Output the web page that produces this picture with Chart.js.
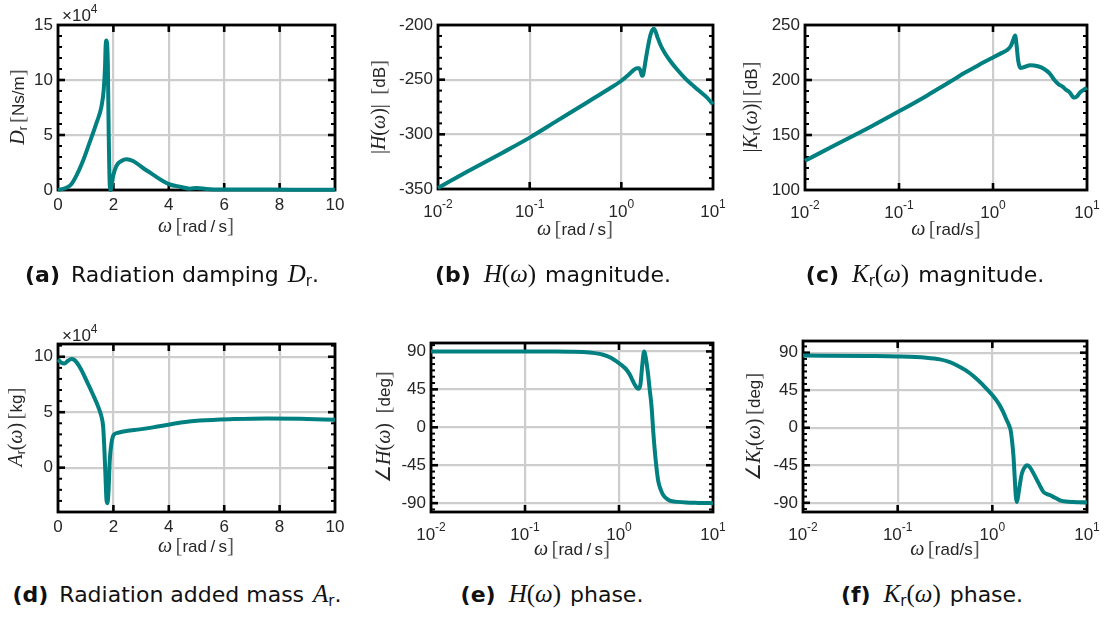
<!DOCTYPE html>
<html>
<head>
<meta charset="utf-8">
<script src="https://cdn.jsdelivr.net/npm/chart.js@4.4.0/dist/chart.umd.min.js"></script>
<style>
body { margin: 0; background: #fff; }
#fig { position: relative; width: 1109px; height: 617px; overflow: hidden; background: #fff;
       font-family: 'Liberation Sans', Arial, sans-serif; color: #262626; }
.pan { position: absolute; }
.t { position: absolute; white-space: nowrap; font-size: 17px; line-height: 1; }
.xt { transform: translateX(-50%); }
.yt { transform: translate(-50%, -50%) rotate(-90deg); }
.m { font-family: 'Liberation Serif', serif; font-style: italic; font-size: 20px; }
.p { font-family: 'Liberation Serif', serif; font-size: 20px; }
.br { font-family: 'Liberation Serif', serif; font-size: 21px; color: #555; }
.s { font-size: 12px; position: relative; top: 3px; }
.e { font-size: 12px; position: relative; top: -8px; }
.cap { position: absolute; white-space: nowrap; font-family: 'DejaVu Sans', sans-serif; font-size: 22px;
       color: #111; transform: translateX(-50%); line-height: 1; }
.cap b { margin-right: 4px; }
.cap .m { font-size: 25px; }
.cap .p { font-size: 25px; }
.cap .s { font-size: 15px; top: 4px; }
.cap .g { display: inline-block; width: 9px; }
</style>
</head>
<body>
<div id="fig">
  <div class="t" style="left:62px;top:7px">×10<span class="e">4</span></div>
  <div class="t" style="left:62px;top:327px">×10<span class="e">4</span></div>

  <div class="t yt" style="left:17px;top:107px"><span class="m">D</span><span class="s">r</span>&thinsp;<span class="br">[</span>Ns/m<span class="br">]</span></div>
  <div class="t yt" style="left:378px;top:107px"><span class="p">|</span><span class="m">H</span><span class="p">(</span><span class="m">ω</span><span class="p">)|</span>&nbsp; <span class="br">[</span>dB<span class="br">]</span></div>
  <div class="t yt" style="left:750px;top:107px"><span class="p">|</span><span class="m">K</span><span class="s">r</span><span class="p">(</span><span class="m">ω</span><span class="p">)|</span>&thinsp;<span class="br">[</span>dB<span class="br">]</span></div>
  <div class="t yt" style="left:15px;top:427px"><span class="m">A</span><span class="s">r</span><span class="p">(</span><span class="m">ω</span><span class="p">)</span>&thinsp;<span class="br">[</span>kg<span class="br">]</span></div>
  <div class="t yt" style="left:383px;top:427px"><span class="p">∠</span><span class="m">H</span><span class="p">(</span><span class="m">ω</span><span class="p">)</span>&nbsp; <span class="br">[</span>deg<span class="br">]</span></div>
  <div class="t yt" style="left:753px;top:427px"><span class="p">∠</span><span class="m">K</span><span class="s">r</span><span class="p">(</span><span class="m">ω</span><span class="p">)</span>&thinsp;<span class="br">[</span>deg<span class="br">]</span></div>

  <div class="t xt" style="left:196px;top:215px"><span class="m">ω</span>&thinsp;<span class="br">[</span>rad&thinsp;/&thinsp;s<span class="br">]</span></div>
  <div class="t xt" style="left:575px;top:218px"><span class="m">ω</span>&thinsp;<span class="br">[</span>rad&thinsp;/&thinsp;s<span class="br">]</span></div>
  <div class="t xt" style="left:946px;top:218px"><span class="m">ω</span>&thinsp;<span class="br">[</span>rad/s<span class="br">]</span></div>
  <div class="t xt" style="left:196px;top:535px"><span class="m">ω</span>&thinsp;<span class="br">[</span>rad&thinsp;/&thinsp;s<span class="br">]</span></div>
  <div class="t xt" style="left:572px;top:538px"><span class="m">ω</span>&thinsp;<span class="br">[</span>rad&thinsp;/&thinsp;s<span class="br">]</span></div>
  <div class="t xt" style="left:945px;top:538px"><span class="m">ω</span>&thinsp;<span class="br">[</span>rad/s<span class="br">]</span></div>

  <div class="cap" style="left:172px;top:261px"><b>(a)</b> Radiation damping<span class="g"></span><span class="m">D</span><span class="s">r</span>.</div>
  <div class="cap" style="left:553px;top:261px"><b>(b)</b><span class="g"></span><span class="m">H</span><span class="p">(</span><span class="m">ω</span><span class="p">)</span><span class="g"></span>magnitude.</div>
  <div class="cap" style="left:925px;top:261px"><b>(c)</b><span class="g"></span><span class="m">K</span><span class="s">r</span><span class="p">(</span><span class="m">ω</span><span class="p">)</span><span class="g"></span>magnitude.</div>
  <div class="cap" style="left:177px;top:581px"><b>(d)</b> Radiation added mass<span class="g"></span><span class="m">A</span><span class="s">r</span>.</div>
  <div class="cap" style="left:552px;top:581px"><b>(e)</b><span class="g"></span><span class="m">H</span><span class="p">(</span><span class="m">ω</span><span class="p">)</span><span class="g"></span>phase.</div>
  <div class="cap" style="left:932px;top:581px"><b>(f)</b><span class="g"></span><span class="m">K</span><span class="s">r</span><span class="p">(</span><span class="m">ω</span><span class="p">)</span><span class="g"></span>phase.</div>
</div>

<script>
// tick values
const linTicksX = [0, 2, 4, 6, 8, 10];
const decadeTicks = [0.01, 0.1, 1, 10];
const phaseTicks = [-90, -45, 0, 45, 90];

// (a) radiation damping, x10^4 Ns/m
const dampW = [0, 0.3, 0.48, 0.66, 0.9, 1.14, 1.39, 1.57, 1.65, 1.7, 1.72, 1.75, 1.8, 1.83, 1.87, 1.9,
  1.99, 2.11, 2.29, 2.47, 2.71, 3.07, 3.43, 3.8, 4.04, 4.4, 4.76, 5.0, 5.36, 5.84, 7, 8.5, 10];
const dampVal = [0, 0.21, 0.52, 1.28, 2.64, 4.3, 6.1, 7.6, 9.1, 11.3, 13.1, 13.6, 11.3, 5.2, 0.36, 0,
  1.27, 2.2, 2.64, 2.8, 2.64, 2.0, 1.4, 0.8, 0.5, 0.3, 0.12, 0.18, 0.1, 0.05, 0.04, 0.03, 0.03];

// (b) |H| in dB
const hMagW = [0.01, 0.02, 0.05, 0.1, 0.2, 0.3, 0.5, 0.7, 1.0, 1.2, 1.35, 1.48, 1.56, 1.62, 1.68, 1.72,
  1.78, 1.86, 1.96, 2.08, 2.18, 2.27, 2.36, 2.5, 2.7, 3.0, 3.5, 4, 5, 6, 7, 8.5, 10];
const hMagDb = [-349, -335, -317, -303, -287.5, -278.5, -267, -259.5, -251, -245.5, -241.5, -239.5,
  -239.5, -242, -246.5, -246, -240, -230, -219, -209, -204.5, -203.5, -206, -212, -219, -226, -234,
  -240, -249, -255, -260, -266, -272.5];

// (c) |Kr| in dB
const krMagW = [0.01, 0.02, 0.05, 0.1, 0.2, 0.3, 0.4, 0.5, 0.7, 1.0, 1.2, 1.4, 1.55, 1.65, 1.72, 1.78,
  1.85, 1.95, 2.1, 2.5, 3.0, 3.5, 4.0, 4.5, 5, 5.5, 6, 6.5, 7.3, 7.8, 8.5, 9.2, 10];
const krMagDb = [126.5, 140, 157.5, 171.5, 186, 195, 201.5, 206.5, 213.5, 220.5, 224, 227, 231, 237,
  240.5, 232, 218, 211, 211.5, 213.5, 212.5, 210, 206, 200, 196, 194, 191, 189, 184, 185, 189, 191, 193];

// (d) radiation added mass, x10^4 kg
const addedW = [0, 0.12, 0.24, 0.36, 0.48, 0.6, 0.78, 1.02, 1.27, 1.45, 1.57, 1.63, 1.67, 1.71, 1.75,
  1.78, 1.82, 1.87, 1.93, 2.01, 2.17, 2.47, 2.95, 3.43, 3.92, 4.52, 5.12, 6.33, 7.53, 8.73, 10];
const addedVal = [9.76, 9.46, 9.4, 9.64, 9.79, 9.7, 9.1, 7.9, 6.55, 5.5, 4.6, 3.7, 1.9, -0.5, -2.9,
  -3.2, -2.3, 0.7, 2.2, 2.95, 3.15, 3.3, 3.45, 3.63, 3.85, 4.1, 4.25, 4.38, 4.44, 4.41, 4.32];

// (e) phase of H in deg
const hPhaseW = [0.01, 0.1, 0.2, 0.3, 0.416, 0.55, 0.678, 0.82, 0.94, 1.07, 1.2, 1.3, 1.41, 1.5, 1.6,
  1.69, 1.77, 1.85, 1.93, 2.04, 2.12, 2.21, 2.34, 2.46, 2.61, 2.78, 2.94, 3.2, 3.47, 4.2, 5.2, 7, 10];
const hPhaseDeg = [90, 90, 89.8, 89.6, 89.2, 88, 86.1, 82.5, 78.2, 73.5, 68.4, 62.5, 54.6, 49, 45.6,
  50.7, 74.3, 90, 82, 62.5, 45, 27, -12.2, -39.7, -63.3, -74, -80, -84.5, -87, -88.5, -89.3, -89.7, -90];

// (f) phase of Kr in deg
const krPhaseW = [0.01, 0.05, 0.1, 0.2, 0.28, 0.35, 0.42, 0.52, 0.63, 0.8, 1.02, 1.18, 1.3, 1.42, 1.5,
  1.56, 1.62, 1.67, 1.72, 1.77, 1.81, 1.86, 1.93, 2.05, 2.18, 2.32, 2.48, 2.73, 3.1, 3.47, 4.1, 4.6,
  5.2, 6, 7.2, 10];
const krPhaseDeg = [86.5, 86, 85.5, 84, 82, 79, 75, 69, 62, 51, 38, 28, 19, 9, 3, -3, -17, -33, -58,
  -82, -89, -84, -72, -55, -48, -45, -47, -55, -67, -77, -81, -84, -87, -88.5, -89, -89.5];

const LINE = '#008080';
const GRID = '#cdcdcd';
const TICKFONT = { family: "'Liberation Sans', Arial, sans-serif", size: 17 };

// box, major ticks and minor ticks like the matlab axes
const framePlugin = {
  id: 'frame',
  beforeDatasetsDraw(chart, args, opts) {
    const { ctx, chartArea: a, scales } = chart;
    const seg = (x1, y1, x2, y2) => { ctx.beginPath(); ctx.moveTo(x1, y1); ctx.lineTo(x2, y2); ctx.stroke(); };
    ctx.save();
    ctx.strokeStyle = '#000';
    ctx.lineWidth = 2.6;
    scales.x.ticks.forEach(t => {
      if (t.value <= scales.x.min || t.value >= scales.x.max) return;
      const px = scales.x.getPixelForValue(t.value);
      seg(px, a.bottom, px, a.bottom - 7);
      seg(px, a.top, px, a.top + 7);
    });
    const yv = scales.y.ticks.map(t => t.value);
    yv.forEach(v => {
      if (v <= scales.y.min || v >= scales.y.max) return;
      const py = scales.y.getPixelForValue(v);
      seg(a.left, py, a.left + 7, py);
      seg(a.right, py, a.right - 7, py);
    });
    ctx.lineWidth = 2;
    const step = opts.minor;
    for (let v = Math.ceil(scales.y.min / step) * step; v < scales.y.max; v += step) {
      if (yv.some(m => Math.abs(m - v) < 1e-6) || v <= scales.y.min) continue;
      const py = scales.y.getPixelForValue(v);
      seg(a.left, py, a.left + 4, py);
      seg(a.right, py, a.right - 4, py);
    }
    ctx.lineWidth = 2.8;
    ctx.strokeRect(a.left, a.top, a.right - a.left, a.bottom - a.top);
    ctx.restore();
  }
};

// 10^n labels under logarithmic axes
const logLabelPlugin = {
  id: 'loglabels',
  afterDraw(chart) {
    const sx = chart.scales.x;
    if (sx.type !== 'logarithmic') return;
    const { ctx, chartArea: a } = chart;
    ctx.save();
    ctx.fillStyle = '#262626';
    ctx.textBaseline = 'alphabetic';
    ctx.textAlign = 'left';
    sx.ticks.forEach(t => {
      const ex = String(Math.round(Math.log10(t.value)));
      const px = sx.getPixelForValue(t.value);
      ctx.font = "17px 'Liberation Sans', Arial, sans-serif";
      const w1 = ctx.measureText('10').width;
      ctx.font = "12px 'Liberation Sans', Arial, sans-serif";
      const w2 = ctx.measureText(ex).width;
      const x0 = px - (w1 + w2) / 2;
      ctx.font = "17px 'Liberation Sans', Arial, sans-serif";
      ctx.fillText('10', x0, a.bottom + 28);
      ctx.font = "12px 'Liberation Sans', Arial, sans-serif";
      ctx.fillText(ex, x0 + w1, a.bottom + 19);
    });
    ctx.restore();
  }
};

function panel(L, T, R, B, xs, ys, xType, yMin, yMax, yTicks, minor) {
  const padL = 58, padT = 25, padR = 16, padB = 32;
  const holder = document.createElement('div');
  holder.className = 'pan';
  holder.style.left = (L - padL) + 'px';
  holder.style.top = (T - padT) + 'px';
  const cv = document.createElement('canvas');
  cv.width = R - L + padL + padR;
  cv.height = B - T + padT + padB;
  holder.appendChild(cv);
  document.getElementById('fig').prepend(holder);

  const xScale = xType === 'log'
    ? { type: 'logarithmic', min: 0.01, max: 10,
        afterBuildTicks: s => { s.ticks = decadeTicks.map(v => ({ value: v })); },
        ticks: { display: false } }
    : { type: 'linear', min: 0, max: 10,
        afterBuildTicks: s => { s.ticks = linTicksX.map(v => ({ value: v })); },
        ticks: { font: TICKFONT, color: '#262626', padding: 5, maxRotation: 0, autoSkip: false } };
  xScale.grid = { color: GRID, lineWidth: 2.2, drawTicks: false };
  xScale.border = { display: false };
  xScale.afterFit = s => { s.height = padB; };

  new Chart(cv, {
    type: 'line',
    data: {
      datasets: [{
        data: xs.map((x, i) => ({ x: x, y: ys[i] })),
        borderColor: LINE, borderWidth: 4, pointRadius: 0,
        cubicInterpolationMode: 'monotone', clip: 4
      }]
    },
    options: {
      responsive: false, animation: false, events: [],
      layout: { padding: { left: 0, top: padT, right: padR, bottom: 0 } },
      plugins: { legend: { display: false }, tooltip: { enabled: false }, frame: { minor: minor } },
      scales: {
        x: xScale,
        y: {
          type: 'linear', min: yMin, max: yMax,
          afterBuildTicks: s => { s.ticks = yTicks.map(v => ({ value: v })); },
          ticks: { font: TICKFONT, color: '#262626', padding: 5 },
          grid: { color: GRID, lineWidth: 2.2, drawTicks: false },
          border: { display: false },
          afterFit: s => { s.width = padL; }
        }
      }
    },
    plugins: [framePlugin, logLabelPlugin]
  });
}

panel(58, 25, 335, 190, dampW, dampVal, 'lin', 0, 15, [0, 5, 10, 15], 1);
panel(438, 25, 713, 189, hMagW, hMagDb, 'log', -350, -200, [-350, -300, -250, -200], 10);
panel(805, 25, 1087, 190, krMagW, krMagDb, 'log', 100, 250, [100, 150, 200, 250], 10);
panel(58, 344, 335, 512, addedW, addedVal, 'lin', -4, 11.15, [0, 5, 10], 1);
panel(431, 343, 713, 512, hPhaseW, hPhaseDeg, 'log', -100.5, 100, phaseTicks, 7.5);
panel(803, 341, 1087, 512, krPhaseW, krPhaseDeg, 'log', -101, 104, phaseTicks, 7.5);
</script>
</body>
</html>
